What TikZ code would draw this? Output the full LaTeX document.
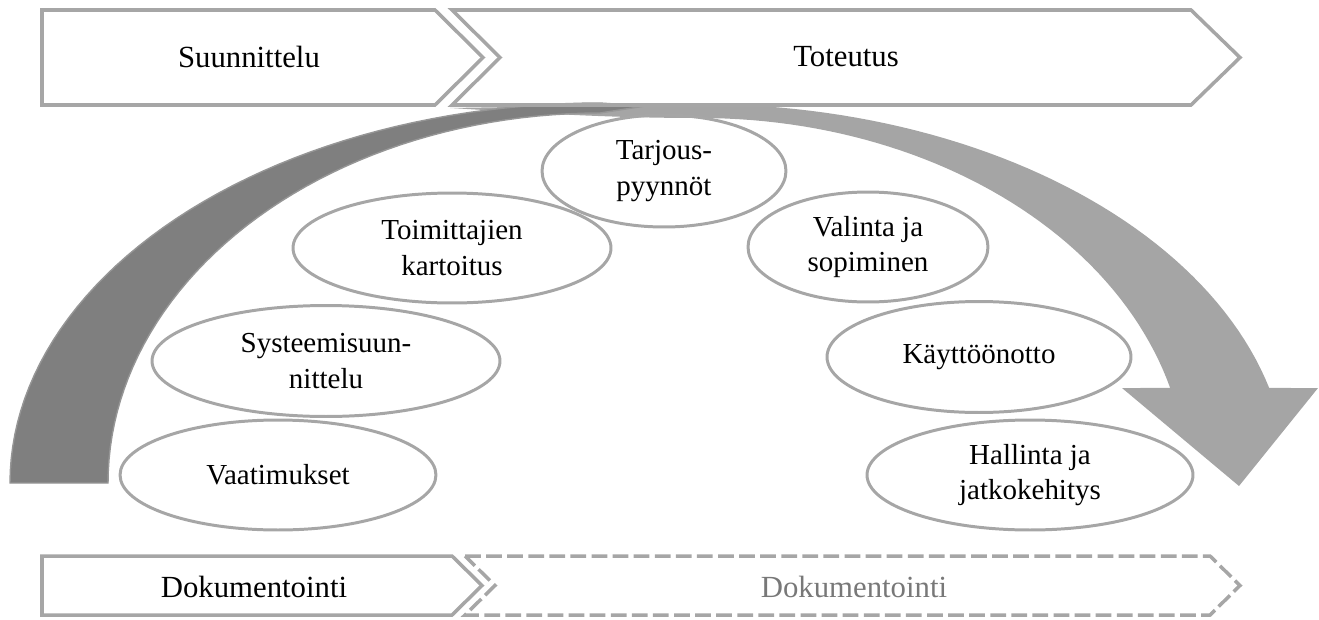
\documentclass[tikz,border=0pt]{standalone}
\usepackage{fontspec}
\setmainfont{Liberation Serif}
\usetikzlibrary{shapes.geometric}
\definecolor{lineGray}{RGB}{166,166,166}
\definecolor{darkArc}{RGB}{127,127,127}
\definecolor{darkRim}{RGB}{150,150,150}
\definecolor{lightArc}{RGB}{165,165,165}
\definecolor{textGray}{RGB}{120,120,120}
\newcommand{\boxFont}{\fontsize{17.5}{21}\selectfont}
\newcommand{\stepFont}{\fontsize{16.5}{20}\selectfont}

\begin{document}
\begin{tikzpicture}[x=0.02cm, y=-0.02cm,
	phase/.style={ellipse, draw=lineGray, line width=1.7pt, inner sep=0pt, align=center, font=\stepFont},
	chevron/.style={draw=lineGray, line width=2pt, line join=miter}]

	\useasboundingbox (0,0) rectangle (1319,619);

% Define coordinates.

	%top row
	\coordinate (planTail) at (42,10);
	\coordinate (planTip) at (483,57.5);
	\coordinate (doTail) at (452,10);
	\coordinate (doTip) at (1240,57.5);

	%bottom row
	\coordinate (docTail) at (42,556);
	\coordinate (docTip) at (482,585.5);
	\coordinate (docLaterTail) at (465,556);
	\coordinate (docLaterTip) at (1240,585.5);

	%arrow head
	\coordinate (headLeft) at (1122,388);
	\coordinate (headRight) at (1318,388);
	\coordinate (headTip) at (1239,486);

% Draw the big arrow.

	%light part, right side
	\fill[lightArc] (450,108) -- (700,104)
		-- plot[domain=90:14.52, samples=50] ({700+588*cos(\x)}, {483-379*sin(\x)})
		-- (headRight) -- (headTip) -- (headLeft)
		-- plot[domain=15.09:90, samples=50] ({700+487*cos(\x)}, {483-365*sin(\x)})
		.. controls (600,118) and (520,112) .. (450,108) -- cycle;

	%dark part, left side
	\filldraw[fill=darkArc, draw=darkRim, line width=0.8pt]
		plot[domain=180:90, samples=50] ({600+590*cos(\x)}, {483-380*sin(\x)})
		-- (645,106)
		-- plot[domain=90:180, samples=50] ({600+492*cos(\x)}, {483-370*sin(\x)}) -- cycle;

% Draw chevrons.

	\draw[chevron] (planTail) -- (435,10) -- (planTip) -- (435,105) -- (42,105) -- cycle;
	\draw[chevron] (doTail) -- (1191,10) -- (doTip) -- (1191,105) -- (452,105) -- (500,57.5) -- cycle;

	\draw[chevron] (docTail) -- (452,556) -- (docTip) -- (452,615) -- (42,615) -- cycle;
	\draw[chevron, dash pattern=on 9pt off 3pt] (docLaterTail) -- (1210,556) -- (docLaterTip) -- (1210,615) -- (465,615) -- (495,585.5) -- cycle;

	\node[font=\boxFont] (suunnittelu) at (249,57) {Suunnittelu};
	\node[font=\boxFont] (toteutus) at (846,57) {Toteutus};
	\node[font=\boxFont] (dokumentointi) at (254,587) {Dokumentointi};
	\node[font=\boxFont, text=textGray] (dokumentointiLater) at (854,587) {Dokumentointi};

% Draw phases.

	\node[phase, minimum width=4.88cm, minimum height=2.24cm] (tarjous) at (664,171) {Tarjous-\\pyynnöt};
	\node[phase, minimum width=6.36cm, minimum height=2.2cm] (toimittajat) at (452,248) {Toimittajien\\kartoitus};
	\node[phase, minimum width=4.8cm, minimum height=2.2cm] (valinta) at (868,247) {Valinta ja\\sopiminen};
	\node[phase, minimum width=6.96cm, minimum height=2.22cm] (systeemi) at (326,361) {Systeemisuun-\\nittelu};
	\node[phase, minimum width=6.08cm, minimum height=2.22cm] (kaytto) at (979,357) {Käyttöönotto};
	\node[phase, minimum width=6.32cm, minimum height=2.2cm] (vaatimukset) at (278,475) {Vaatimukset};
	\node[phase, minimum width=6.52cm, minimum height=2.2cm] (hallinta) at (1030,475) {Hallinta ja\\jatkokehitys};

\end{tikzpicture}
\end{document}
